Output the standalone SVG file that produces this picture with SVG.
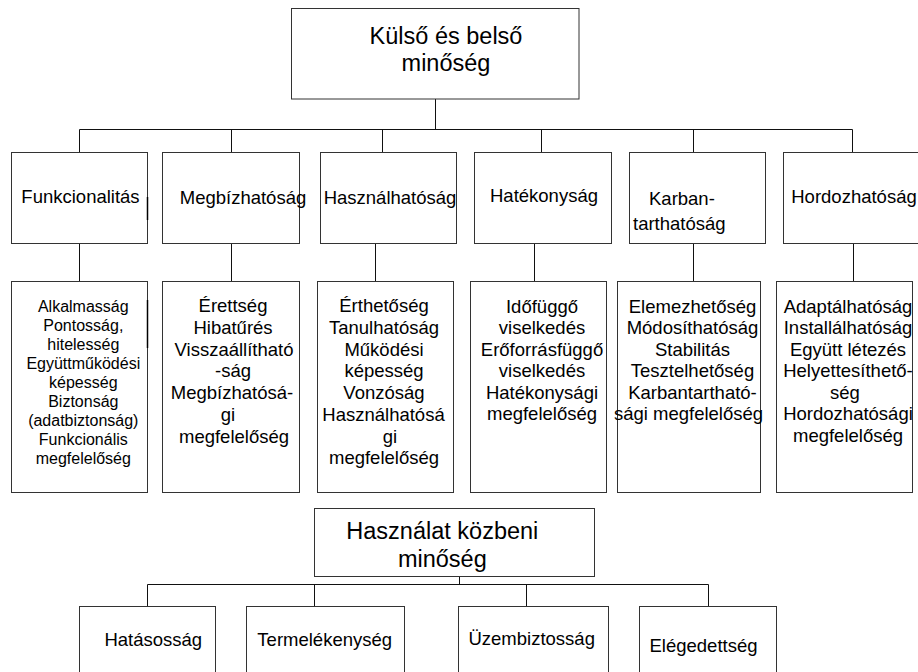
<svg xmlns="http://www.w3.org/2000/svg" width="918" height="672" viewBox="0 0 918 672">
<style>
.box{fill:#fff;stroke:#333;stroke-width:1}
.con{fill:none;stroke:#111;stroke-width:1}
text{font-family:"Liberation Sans",Arial,sans-serif;fill:#000}
.h1{font-size:23.5px;text-anchor:middle}
.h2{font-size:18.5px;text-anchor:middle}
.h2s{font-size:18.5px}
.d{font-size:18.5px;text-anchor:middle}
.ds{font-size:16px;text-anchor:middle}
</style>
<rect width="918" height="672" fill="#fff"/>
<g id="connectors">
<path class="con" d="M435.5 99V129.5M79.5 129.5H852.5M79.5 129.5V152.5M231.5 129.5V152.5M382.5 129.5V152.5M541.5 129.5V152.5M693.5 129.5V152.5M852.5 129.5V152.5"/>
<path class="con" d="M79.5 243.5V281.5M231.5 243.5V281.5M375.5 243.5V281.5M534.5 243.5V281.5M693.5 243.5V281.5M853.5 243.5V281.5"/>
<path class="con" d="M459.5 576.5V584.5M147.5 584.5H708.5M147.5 584.5V606.5M314.5 584.5V606.5M526.5 584.5V606.5M708.5 584.5V606.5"/>
</g>
<g id="kulso-belso">
<rect class="box" x="291.5" y="8.5" width="287.5" height="90.5"/>
<text class="h1" x="446" y="43.5">Külső és belső</text>
<text class="h1" x="446" y="71">minőség</text>
</g>
<g id="funkcionalitas">
<rect class="box" x="11.5" y="152.5" width="136" height="91"/>
<line x1="147.5" y1="197" x2="147.5" y2="220" stroke="#000" stroke-width="1.5"/>
<text class="h2" x="80.5" y="203">Funkcionalitás</text>
</g>
<g id="megbizhatosag">
<rect class="box" x="162.5" y="152.5" width="137" height="91"/>
<text class="h2" x="243" y="204">Megbízhatóság</text>
</g>
<g id="hasznalhatosag">
<rect class="box" x="320.5" y="152.5" width="136" height="91"/>
<text class="h2" x="390" y="204">Használhatóság</text>
</g>
<g id="hatekonysag">
<rect class="box" x="474.5" y="152.5" width="137" height="91"/>
<text class="h2" x="544" y="202">Hatékonyság</text>
</g>
<g id="karbantarthatosag">
<rect class="box" x="629.5" y="152.5" width="136" height="91"/>
<text class="h2s" x="649" y="205">Karban-</text>
<text class="h2s" x="633" y="230">tarthatóság</text>
</g>
<g id="hordozhatosag">
<rect class="box" x="783.5" y="152.5" width="142" height="91"/>
<text class="h2" x="854" y="203">Hordozhatóság</text>
</g>
<g id="funkcionalitas-reszletek">
<rect class="box" x="11.5" y="281.5" width="136" height="211"/>
<line x1="147.5" y1="300" x2="147.5" y2="348" stroke="#000" stroke-width="1.5"/>
<text class="ds" x="83.3" y="311.7">Alkalmasság</text>
<text class="ds" x="83.3" y="330.7">Pontosság,</text>
<text class="ds" x="83.3" y="349.7">hitelesség</text>
<text class="ds" x="83.3" y="368.7">Együttműködési</text>
<text class="ds" x="83.3" y="387.7">képesség</text>
<text class="ds" x="83.3" y="406.7">Biztonság</text>
<text class="ds" x="83.3" y="425.7">(adatbiztonság)</text>
<text class="ds" x="83.3" y="444.7">Funkcionális</text>
<text class="ds" x="83.3" y="463.7">megfelelőség</text>
</g>
<g id="megbizhatosag-reszletek">
<rect class="box" x="162.5" y="281.5" width="137" height="211"/>
<text class="d" x="233" y="312.3">Érettség</text>
<text class="d" x="233" y="334">Hibatűrés</text>
<text class="d" x="234" y="355.7">Visszaállítható</text>
<text class="d" x="233" y="377.4">-ság</text>
<text class="d" x="232" y="399.1">Megbízhatósá-</text>
<text class="d" x="228" y="420.8">gi</text>
<text class="d" x="234" y="442.5">megfelelőség</text>
</g>
<g id="hasznalhatosag-reszletek">
<rect class="box" x="317.5" y="281.5" width="136" height="211"/>
<text class="d" x="384" y="312.3">Érthetőség</text>
<text class="d" x="384" y="334">Tanulhatóság</text>
<text class="d" x="384" y="355.7">Működési</text>
<text class="d" x="384" y="377.4">képesség</text>
<text class="d" x="384" y="399.1">Vonzóság</text>
<text class="d" x="383.5" y="420.8">Használhatósá</text>
<text class="d" x="390" y="442.5">gi</text>
<text class="d" x="384" y="464.2">megfelelőség</text>
</g>
<g id="hatekonysag-reszletek">
<rect class="box" x="470.5" y="281.5" width="136" height="211"/>
<text class="d" x="542" y="312.5">Időfüggő</text>
<text class="d" x="542" y="334">viselkedés</text>
<text class="d" x="542" y="355.5">Erőforrásfüggő</text>
<text class="d" x="542" y="377">viselkedés</text>
<text class="d" x="542" y="398.5">Hatékonysági</text>
<text class="d" x="542" y="420">megfelelőség</text>
</g>
<g id="karbantarthatosag-reszletek">
<rect class="box" x="617.5" y="281.5" width="143" height="211"/>
<text class="d" x="692.5" y="312.5">Elemezhetőség</text>
<text class="d" x="692.5" y="334">Módosíthatóság</text>
<text class="d" x="692.5" y="355.5">Stabilitás</text>
<text class="d" x="692.5" y="377">Tesztelhetőség</text>
<text class="d" x="692.5" y="398.5">Karbantartható-</text>
<text class="d" x="688.5" y="420">sági megfelelőség</text>
</g>
<g id="hordozhatosag-reszletek">
<rect class="box" x="776.5" y="281.5" width="136" height="211"/>
<text class="d" x="848" y="312.5">Adaptálhatóság</text>
<text class="d" x="848" y="334">Installálhatóság</text>
<text class="d" x="848" y="355.5">Együtt létezés</text>
<text class="d" x="848" y="377">Helyettesíthető-</text>
<text class="d" x="845" y="398.5">ség</text>
<text class="d" x="848" y="420">Hordozhatósági</text>
<text class="d" x="848" y="441.5">megfelelőség</text>
</g>
<g id="hasznalat-kozbeni">
<rect class="box" x="314.5" y="508.5" width="280" height="68"/>
<text class="h1" x="442.3" y="539.3">Használat közbeni</text>
<text class="h1" x="442.3" y="566.5">minőség</text>
</g>
<g id="hatasossag">
<rect class="box" x="79.5" y="606.5" width="136" height="80"/>
<text class="h2" x="153.3" y="646">Hatásosság</text>
</g>
<g id="termelekenyseg">
<rect class="box" x="246.5" y="606.5" width="158" height="80"/>
<text class="h2" x="324.7" y="646">Termelékenység</text>
</g>
<g id="uzembiztossag">
<rect class="box" x="458.5" y="606.5" width="150" height="80"/>
<text class="h2" x="531.7" y="645">Üzembiztosság</text>
</g>
<g id="elegedettseg">
<rect class="box" x="639.5" y="606.5" width="137" height="80"/>
<text class="h2" x="703.5" y="652">Elégedettség</text>
</g>
</svg>
